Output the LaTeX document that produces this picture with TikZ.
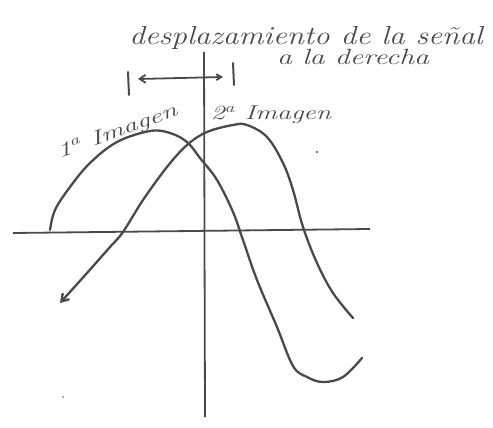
\documentclass[tikz,border=0pt]{standalone}
\usepackage{fontspec}
\usetikzlibrary{arrows.meta}
\definecolor{ink}{HTML}{4A4A4A}
\tikzset{
  curve/.style={ink,line width=2.3pt,line cap=round,line join=round},
  axisline/.style={ink,line width=1.8pt},
  hand/.style={ink,inner sep=0pt},
}
\begin{document}
\begin{tikzpicture}[x=1pt,y=-1pt]
\fill[white] (0,0) rectangle (493,428);
\useasboundingbox (0,0) rectangle (493,428);
% axes
\coordinate (hl) at (13,233);
\coordinate (hr) at (370,229);
\coordinate (vt) at (204,52);
\coordinate (vb) at (205,417);
\draw[axisline] (hl) -- (hr);
\draw[axisline] (vt) -- (vb);
% curve 1 (1a imagen)
\draw[curve] plot[smooth,tension=0.6] coordinates {(50,230) (55,210) (70,187) (90,163) (117,142) (150,131) (170,133) (187,142) (200,158) (217,180) (233,212) (243,240) (257,280) (277,327) (293,366) (307,377) (323,382) (343,377) (362,358)};
% curve 2 (2a imagen) with arrow at lower left
\draw[curve,{Straight Barb[length=7pt,width=9pt]}-] plot[smooth,tension=0.6] coordinates {(60,303) (87,273) (110,247) (123,232) (143,200) (167,167) (187,145) (207,132) (233,125) (247,125) (267,137) (283,163) (293,190) (303,227) (317,263) (333,293) (353,318)};
% shift marker
\coordinate (lbt) at (128,72);
\coordinate (lbb) at (129,95);
\coordinate (rbt) at (233,63);
\coordinate (rbb) at (234,85);
\coordinate (al) at (138,79);
\coordinate (ar) at (223,77);
\draw[curve,line width=2pt] (lbt) -- (lbb);
\draw[curve,line width=2pt] (rbt) -- (rbb);
\draw[curve,line width=1.8pt,{Straight Barb[length=6pt,width=8pt]}-{Straight Barb[length=5pt,width=6pt]}] (al) -- (ar);
% texts
\node[hand,font=\itshape\fontsize{26}{30}\selectfont,anchor=base] (t1) at (306,45) {\scalebox{1.2}[1]{desplazamiento de la señal}};
\node[hand,font=\itshape\fontsize{22}{26}\selectfont,anchor=base] (t2) at (353,65) {\scalebox{1.35}[1]{a la derecha}};
\node[hand,font=\itshape\fontsize{20}{24}\selectfont,rotate=20,anchor=base] (l1) at (119,137) {\scalebox{1.45}[1]{1\textsuperscript{a} Imagen}};
\node[hand,font=\itshape\fontsize{20}{24}\selectfont,anchor=base] (l2) at (271,120) {\scalebox{1.38}[1]{2\textsuperscript{a} Imagen}};
% specks
\fill[ink] (317,152) circle (1.2pt);
\fill[ink!60] (63,397) circle (1.2pt);
\end{tikzpicture}
\end{document}
